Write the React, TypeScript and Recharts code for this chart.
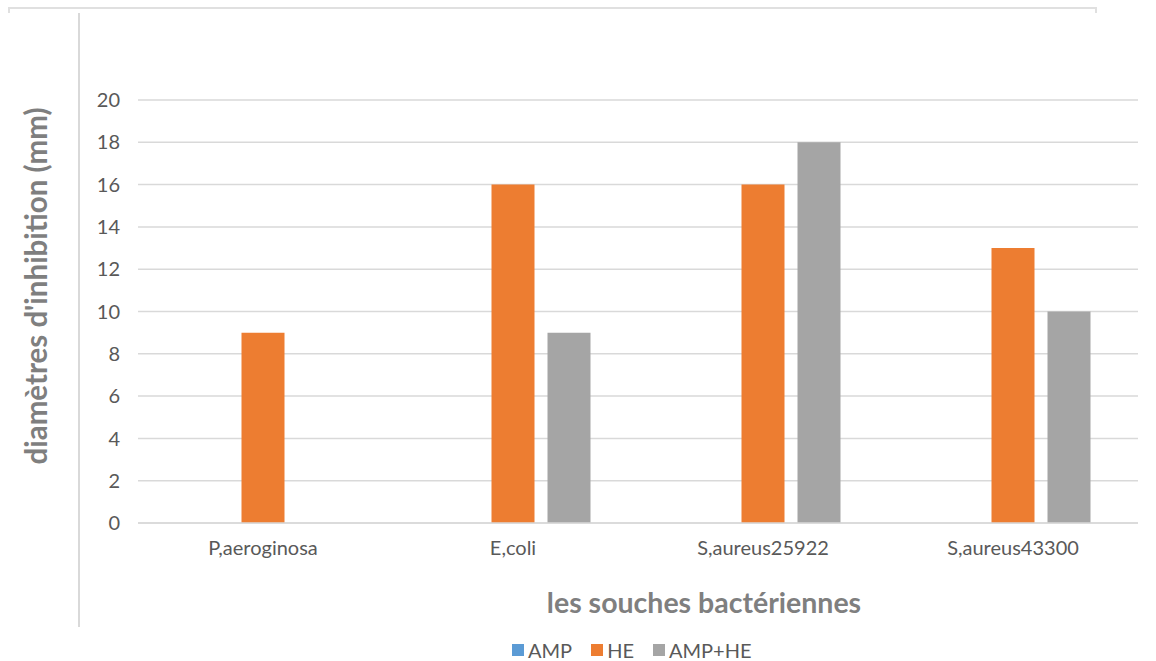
import React from "react";
import { BarChart, Bar, XAxis, YAxis, CartesianGrid } from "recharts";

// Zone d'inhibition (mm) par souche et par traitement
const strains = ["P,aeroginosa", "E,coli", "S,aureus25922", "S,aureus43300"];
const ampValues = [0, 0, 0, 0];
const heValues = [9, 16, 16, 13];
const ampHeValues = [0, 9, 18, 10];
const yTicks = [0, 2, 4, 6, 8, 10, 12, 14, 16, 18, 20];

const seriesInfo = [
  { key: "AMP", color: "#5b9bd5" },
  { key: "HE", color: "#ed7d31" },
  { key: "AMP+HE", color: "#a5a5a5" },
];

const data = strains.map((name, i) => ({
  name,
  AMP: ampValues[i],
  HE: heValues[i],
  "AMP+HE": ampHeValues[i],
}));

const FONT = "Lato, 'Open Sans', 'Noto Sans', sans-serif";

const SeriesLegend = () => (
  <div
    style={{
      position: "absolute",
      left: 512,
      top: 640,
      display: "flex",
      alignItems: "center",
      fontFamily: FONT,
      fontSize: 20,
      lineHeight: "20px",
      color: "#595959",
      whiteSpace: "nowrap",
    }}
  >
    {seriesInfo.map((s) => (
      <div key={s.key} style={{ display: "flex", alignItems: "center", marginRight: 19 }}>
        <span
          style={{
            display: "inline-block",
            width: 12,
            height: 12,
            background: s.color,
            marginRight: 4,
          }}
        />
        <span>{s.key}</span>
      </div>
    ))}
  </div>
);

export default function App() {
  return (
    <div
      style={{
        position: "fixed",
        left: 0,
        top: 0,
        width: 1156,
        height: 661,
        background: "#ffffff",
        overflow: "hidden",
      }}
    >
      {/* cadre gris autour du graphique */}
      <div style={{ position: "absolute", left: 8, top: 7, width: 1089, height: 2, background: "#e0e0e0" }} />
      <div style={{ position: "absolute", left: 8, top: 8, width: 2, height: 5, background: "#e0e0e0" }} />
      <div style={{ position: "absolute", left: 1095, top: 8, width: 2, height: 5, background: "#e0e0e0" }} />
      <div style={{ position: "absolute", left: 78, top: 13, width: 2, height: 614, background: "#d9d9d9" }} />

      <BarChart
        width={1156}
        height={661}
        data={data}
        margin={{ top: 100, right: 18, bottom: 108, left: 78 }}
        barCategoryGap="19%"
        barGap={13}
        style={{ position: "absolute", left: 0, top: 0 }}
      >
        <CartesianGrid vertical={false} stroke="#d9d9d9" strokeWidth={1.5} />
        <XAxis
          dataKey="name"
          height={30}
          axisLine={{ stroke: "#d9d9d9", strokeWidth: 1.5 }}
          tickLine={false}
          tickMargin={12}
          tick={{ fill: "#595959", fontSize: 20, fontFamily: FONT }}
          interval={0}
          label={() => (
            <text
              x={704}
              y={613}
              textAnchor="middle"
              fill="#7f7f7f"
              fontSize={28.5}
              fontWeight={700}
              fontFamily={FONT}
            >
              les souches bactériennes
            </text>
          )}
        />
        <YAxis
          width={60}
          domain={[0, 20]}
          ticks={yTicks}
          interval={0}
          axisLine={false}
          tickLine={false}
          tickMargin={12}
          tick={{ fill: "#595959", fontSize: 20, fontFamily: FONT }}
          label={() => (
            <text
              x={47}
              y={286}
              textAnchor="middle"
              transform="rotate(-90 47 286)"
              fill="#7f7f7f"
              fontSize={29.5}
              fontWeight={700}
              fontFamily={FONT}
            >
              diamètres d'inhibition (mm)
            </text>
          )}
        />
        {seriesInfo.map((s) => (
          <Bar key={s.key} dataKey={s.key} fill={s.color} isAnimationActive={false} />
        ))}
      </BarChart>
      <SeriesLegend />
    </div>
  );
}
